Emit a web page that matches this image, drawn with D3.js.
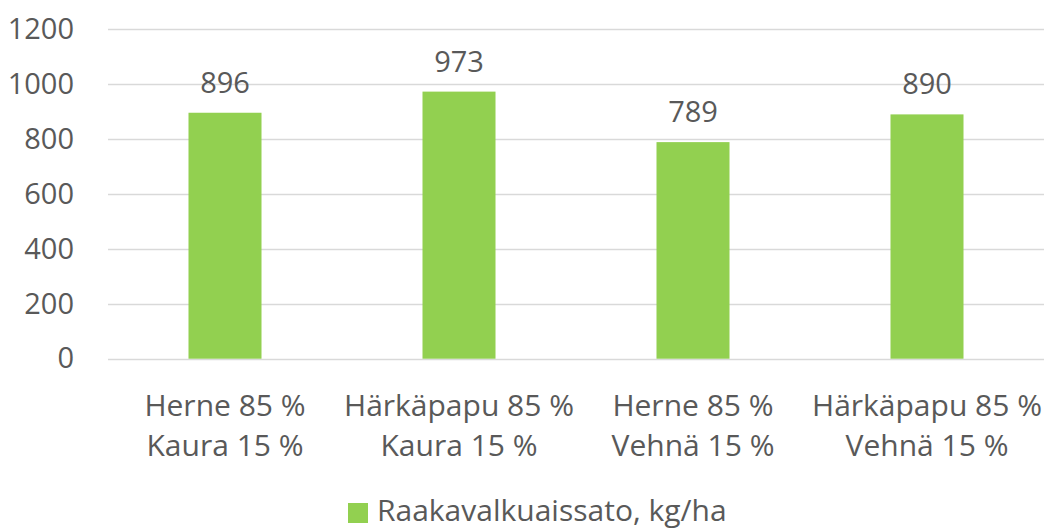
<!DOCTYPE html>
<html><head><meta charset="utf-8">
<script src="https://cdn.jsdelivr.net/npm/d3@7"></script>
<style>body{margin:0;background:#fff}svg{display:block}text{font-family:"Open Sans",sans-serif;fill:#595959}</style>
</head><body><svg id="c" width="1046" height="529"></svg>
<script>
const categories = [["Herne 85 %","Kaura 15 %"],["Härkäpapu 85 %","Kaura 15 %"],["Herne 85 %","Vehnä 15 %"],["Härkäpapu 85 %","Vehnä 15 %"]];
const values = [896, 973, 789, 890];
const yTicks = [0, 200, 400, 600, 800, 1000, 1200];
const seriesName = "Raakavalkuaissato, kg/ha";

const svg = d3.select("#c");
const x = d3.scaleBand().domain(d3.range(categories.length)).range([108, 1044]).paddingInner(0.688).paddingOuter(0.344);
const y = d3.scaleLinear().domain([0, 1200]).range([358.7, 29.3]);

const grid = svg.append("g");
grid.selectAll("line").data(yTicks).join("line")
  .attr("x1", 108).attr("x2", 1044)
  .attr("y1", d => Math.round(y(d)) + 0.5).attr("y2", d => Math.round(y(d)) + 0.5)
  .attr("stroke", "#d9d9d9").attr("stroke-width", 1.3);

const yAxis = d3.axisLeft(y).tickValues(yTicks).tickFormat(d3.format("d")).tickSize(0).tickPadding(0);
const ya = svg.append("g").attr("transform", "translate(74,0)").call(yAxis);
ya.select(".domain").remove();
ya.selectAll("text").attr("font-size", 29).style("font-family", '"Open Sans",sans-serif').attr("fill", "#595959");

svg.append("g").selectAll("rect").data(values).join("rect")
  .attr("x", (d, i) => x(i)).attr("width", x.bandwidth())
  .attr("y", d => y(d)).attr("height", d => y(0) - y(d))
  .attr("fill", "#92d050");

svg.append("g").selectAll("text").data(values).join("text")
  .attr("x", (d, i) => x(i) + x.bandwidth() / 2).attr("y", d => y(d) - 20)
  .attr("text-anchor", "middle").attr("font-size", 29).text(d => d);

const cats = svg.append("g").selectAll("text").data(categories).join("text")
  .attr("text-anchor", "middle").attr("font-size", 30)
  .attr("x", (d, i) => x(i) + x.bandwidth() / 2);
cats.selectAll("tspan").data(d => d).join("tspan")
  .attr("x", function() { return d3.select(this.parentNode).attr("x"); })
  .attr("y", (d, j) => 416 + j * 40).text(d => d);

const leg = svg.append("g");
leg.append("rect").attr("x", 348).attr("y", 503).attr("width", 20).attr("height", 20).attr("fill", "#92d050");
leg.append("text").attr("x", 377).attr("y", 521).attr("font-size", 30).text(seriesName);
</script></body></html>
